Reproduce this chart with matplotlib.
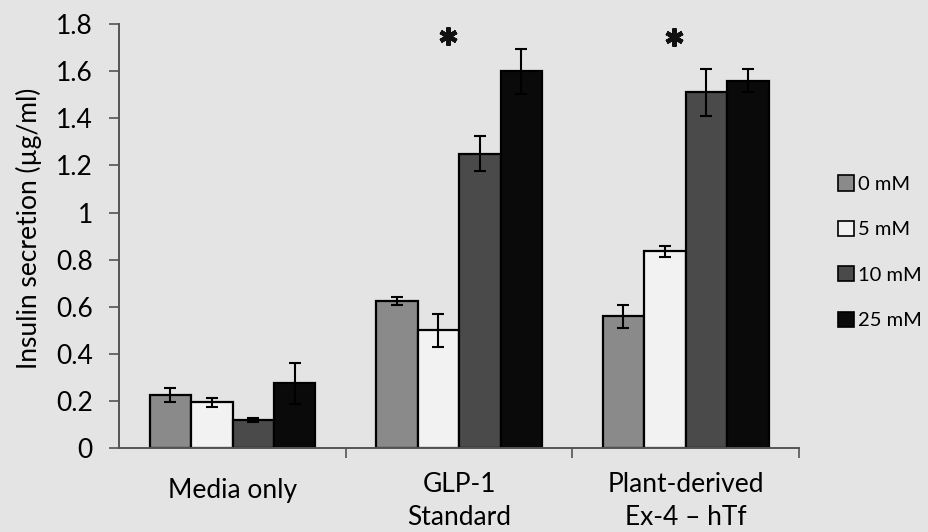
import numpy as np
import matplotlib
matplotlib.use("Agg")
import matplotlib.pyplot as plt
from matplotlib.patches import Patch

plt.rcParams['font.family'] = ['Lato', 'DejaVu Sans']

# data
groups = ["Media only", "GLP-1", "Plant-derived"]
groupsLine2 = ["", "Standard", "Ex-4 \u2013 hTf"]
concLabels = ["0 mM", "5 mM", "10 mM", "25 mM"]

mean0 = [0.225, 0.625, 0.56]
mean5 = [0.195, 0.50, 0.835]
mean10 = [0.12, 1.25, 1.51]
mean25 = [0.275, 1.60, 1.56]

err0 = [0.03, 0.018, 0.05]
err5 = [0.018, 0.07, 0.023]
err10 = [0.008, 0.075, 0.10]
err25 = [0.088, 0.095, 0.05]

yTicks = [0, 0.2, 0.4, 0.6, 0.8, 1.0, 1.2, 1.4, 1.6, 1.8]
yTickLabels = ['0', '0.2', '0.4', '0.6', '0.8', '1', '1.2', '1.4', '1.6', '1.8']

# significance stars: group index and height
starGroups = [1, 2]
starHeights = [1.75, 1.745]

means = [mean0, mean5, mean10, mean25]
errs = [err0, err5, err10, err25]
colors = ['#8a8a8a', '#f2f2f2', '#4a4a4a', '#0a0a0a']
bg = '#e4e4e4'

fig = plt.figure(figsize=(9.29, 5.32), dpi=100, facecolor=bg)
ax = fig.add_axes([0.1284, 0.1573, 0.860 - 0.1284, 0.9549 - 0.1573])
ax.set_facecolor('none')

x = np.arange(len(groups))
width = 0.183
for i in range(4):
    pos = x + (i - 1.5) * width
    ax.bar(pos, means[i], width, color=colors[i], edgecolor='black',
           linewidth=1.6, zorder=2)
    ax.errorbar(pos, means[i], yerr=errs[i], fmt='none', ecolor='black',
                elinewidth=1.5, capsize=4, capthick=1.5, zorder=3)

# asterisks as 6-arm markers
ax.plot(np.array(starGroups) - 0.05, starHeights, linestyle='none',
        marker=(6, 2, 0), markersize=13, markeredgewidth=3.2,
        color='#111111', clip_on=False)

ax.set_xlim(-0.5, 2.5)
ax.set_ylim(0, 1.8)
ax.set_yticks(yTicks)
ax.set_yticklabels(yTickLabels, fontsize=19)
ax.tick_params(axis='y', direction='out', length=7, width=1.2,
               color='#555555', pad=12)

# category boundaries as tick marks, labels drawn as text
ax.set_xticks([0.5, 1.5, 2.5])
ax.set_xticklabels([])
ax.tick_params(axis='x', direction='out', length=7, width=1.2, color='#555555')

for s in ['top', 'right']:
    ax.spines[s].set_visible(False)
for s in ['left', 'bottom']:
    ax.spines[s].set_color('#555555')
    ax.spines[s].set_linewidth(1.4)

trans = ax.get_xaxis_transform()
ax.text(x[0], -0.117, groups[0], transform=trans, ha='center',
        va='baseline', fontsize=19)
for i in [1, 2]:
    ax.text(x[i], -0.103, groups[i], transform=trans, ha='center',
            va='baseline', fontsize=19)
    ax.text(x[i], -0.181, groupsLine2[i], transform=trans, ha='center',
            va='baseline', fontsize=19)

fig.text(0.031, 0.571, 'Insulin secretion (\u00b5g/ml)', rotation=90,
         ha='center', va='center', fontsize=19)

handles = [Patch(facecolor=c, edgecolor='black', linewidth=1.2) for c in colors]
fig.legend(handles, concLabels, loc='upper left', bbox_to_anchor=(0.893, 0.686),
           frameon=False, fontsize=14.5, handlelength=0.8, handleheight=0.8,
           handletextpad=0.2, labelspacing=1.38, borderaxespad=0)

plt.savefig('out.png', dpi=100, facecolor=bg)
